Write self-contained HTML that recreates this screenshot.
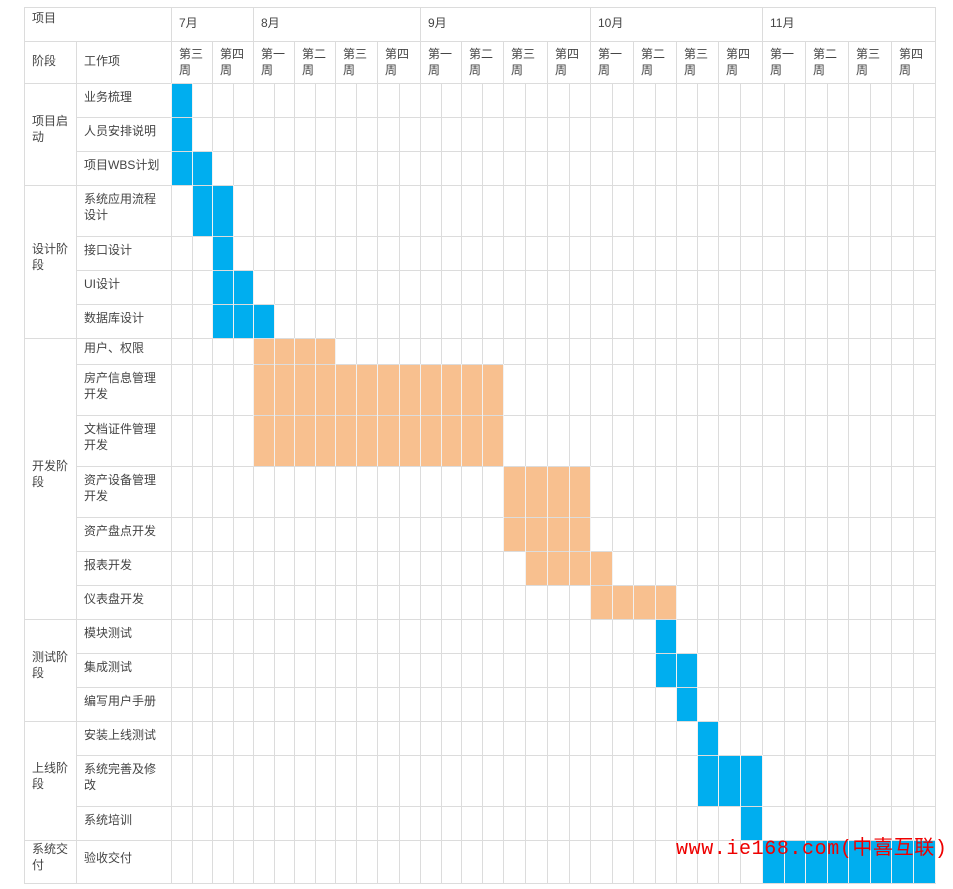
<!DOCTYPE html>
<html><head><meta charset="utf-8">
<style>
body{margin:0;width:953px;height:889px;background:#fff;position:relative;overflow:hidden;font-family:"Liberation Sans","Noto Sans CJK SC",sans-serif;font-size:12px;color:#444}
.c{position:absolute;display:flex;align-items:center;line-height:16px;padding-left:8px;box-sizing:border-box}
.it{padding-bottom:7px}
svg{position:absolute;left:0;top:0}
.wm{position:absolute;left:676px;top:831px;color:#e00;font-size:20px;font-family:"Liberation Mono","Noto Sans CJK SC",monospace;white-space:nowrap;letter-spacing:0.6px}
</style></head><body>
<svg id="g" width="953" height="889"></svg>
<div id="labels">
<div class="c" style="left:24px;top:7px;width:147px;height:22px">项目</div>
<div class="c" style="left:24px;top:41px;width:52px;height:40px">阶段</div>
<div class="c" style="left:76px;top:41px;width:95px;height:40px">工作项</div>
<div class="c" style="left:171px;top:7px;width:82px;height:32px">7月</div>
<div class="c" style="left:253px;top:7px;width:167px;height:32px">8月</div>
<div class="c" style="left:420px;top:7px;width:170px;height:32px">9月</div>
<div class="c" style="left:590px;top:7px;width:172px;height:32px">10月</div>
<div class="c" style="left:762px;top:7px;width:173px;height:32px">11月</div>
</div>
<div class="wm">www.ie168.com(中喜互联)</div>
<script>
var W=[171,212,253,294,335,377,420,461,503,547,590,633,676,718,762,805,848,891,935];
var S=[];for(var i=0;i<18;i++){S.push(W[i]);S.push(Math.round((W[i]+W[i+1])/2));}S.push(935);
var R=[83,117,151,185,236,270,304,338,364,415,466,517,551,585,619,653,687,721,755,806,840,883];
var items=["业务梳理","人员安排说明","项目WBS计划","系统应用流程<br>设计","接口设计","UI设计","数据库设计","用户、权限","房产信息管理<br>开发","文档证件管理<br>开发","资产设备管理<br>开发","资产盘点开发","报表开发","仪表盘开发","模块测试","集成测试","编写用户手册","安装上线测试","系统完善及修<br>改","系统培训","验收交付"];
var stages=[["项目启<br>动",0,3],["设计阶<br>段",3,7],["开发阶<br>段",7,14],["测试阶<br>段",14,17],["上线阶<br>段",17,20],["系统交<br>付",20,21]];
var bars=[[0,0,'b'],[0,0,'b'],[0,1,'b'],[1,2,'b'],[2,2,'b'],[2,3,'b'],[2,4,'b'],[4,7,'o'],[4,15,'o'],[4,15,'o'],[16,19,'o'],[16,19,'o'],[17,20,'o'],[20,23,'o'],[23,23,'b'],[23,24,'b'],[24,24,'b'],[25,25,'b'],[25,27,'b'],[27,27,'b'],[28,35,'b']];
var wk=["第三","第四","第一","第二","第三","第四","第一","第二","第三","第四","第一","第二","第三","第四","第一","第二","第三","第四"];
var L=document.getElementById('labels'),h='';
for(var i=0;i<18;i++)h+='<div class="c" style="left:'+W[i]+'px;top:41px;width:'+(W[i+1]-W[i])+'px;height:41px">'+wk[i]+'<br>周</div>';
for(var i=0;i<21;i++)h+='<div class="c it" style="left:76px;top:'+R[i]+'px;width:95px;height:'+(R[i+1]-R[i])+'px">'+items[i]+'</div>';
stages.forEach(function(s){h+='<div class="c" style="left:24px;top:'+R[s[1]]+'px;width:52px;height:'+(R[s[2]]-R[s[1]]-10)+'px">'+s[0]+'</div>';});
L.insertAdjacentHTML('beforeend',h);
var g='',C='#dcdcdc';
bars.forEach(function(b,i){g+='<rect x="'+S[b[0]]+'" y="'+R[i]+'" width="'+(S[b[1]+1]-S[b[0]])+'" height="'+(R[i+1]-R[i])+'" fill="'+(b[2]=='b'?'#00aeef':'#f8c08f')+'"/>';});
function ln(x1,y1,x2,y2){g+='<line x1="'+x1+'" y1="'+y1+'" x2="'+x2+'" y2="'+y2+'" stroke="'+C+'" stroke-width="1"/>';}
ln(24,7.5,935,7.5);ln(24,41.5,935,41.5);
for(var i=0;i<R.length;i++){ln(76,R[i]+.5,935,R[i]+.5);}
stages.forEach(function(s){ln(24,R[s[1]]+.5,76,R[s[1]]+.5);});ln(24,883.5,76,883.5);
ln(24.5,7,24.5,884);ln(76.5,41,76.5,884);ln(171.5,7,171.5,884);
[253,420,590,762,935].forEach(function(x){ln(x+.5,7,x+.5,884);});
W.forEach(function(x){ln(x+.5,41,x+.5,884);});
S.forEach(function(x){ln(x+.5,83,x+.5,884);});
bars.forEach(function(b,i){for(var k=b[0];k<=b[1]+1;k++){g+='<line x1="'+(S[k]+.5)+'" y1="'+R[i]+'" x2="'+(S[k]+.5)+'" y2="'+R[i+1]+'" stroke="#fff" stroke-opacity="0.6"/>';}});
document.getElementById('g').innerHTML=g;
</script>
</body></html>
